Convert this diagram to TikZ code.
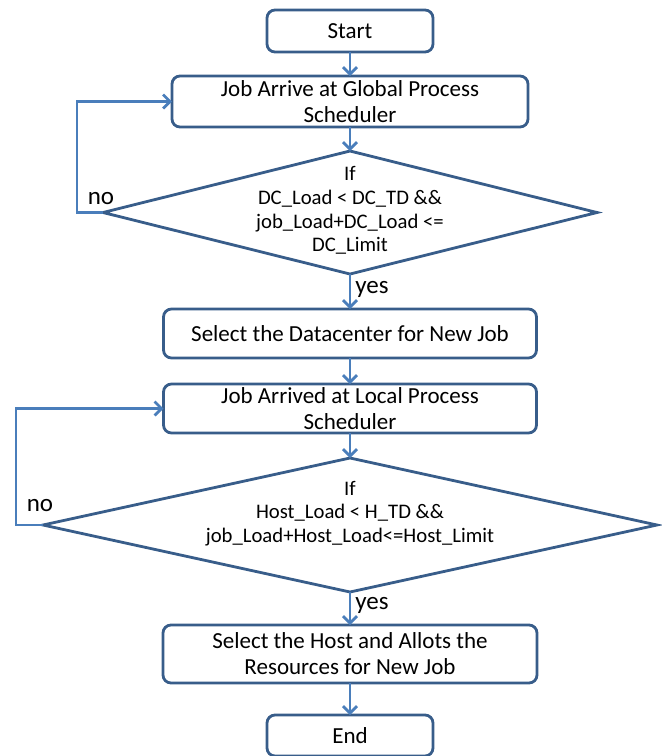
\documentclass[tikz,border=0pt]{standalone}
\usepackage{fontspec}
\setmainfont{Carlito}
\usetikzlibrary{shapes.geometric,arrows.meta}
\definecolor{boxblue}{RGB}{56,93,138}
\definecolor{arrblue}{RGB}{74,126,187}
\tikzset{
  box/.style={draw=boxblue, line width=2.8pt, rounded corners=8pt, fill=white,
    inner sep=0pt, outer sep=0pt, align=center, font=\fontsize{23}{26}\selectfont},
  dia/.style={draw=boxblue, line width=2.8pt, shape=diamond, inner sep=0pt, outer sep=0pt},
  diatext/.style={align=center, inner sep=0pt, font=\fontsize{20.7}{23.7}\selectfont},
  lbl/.style={inner sep=0pt, font=\fontsize{25}{26}\selectfont},
  arr/.style={draw=arrblue, line width=2.8pt, -{Straight Barb[length=7pt,width=14pt,line width=2.8pt]}},
}
\begin{document}
\begin{tikzpicture}[x=1pt,y=-1pt]
\useasboundingbox (0,0) rectangle (662,756);
\node[box, minimum width=166, minimum height=42] (start) at (350,31) {Start};
\node[box, minimum width=356, minimum height=51] (glob) at (350,101.5) {Job Arrive at Global Process\\Scheduler};
\node[dia, minimum width=494, minimum height=123] (d1) at (350,212.5) {};
\node[diatext] (d1t) at (350,210.5) {If\\DC\_Load < DC\_TD \&\&\\job\_Load+DC\_Load <=\\DC\_Limit};
\node[box, minimum width=373, minimum height=49] (dc) at (350,333.5) {Select the Datacenter for New Job};
\node[box, minimum width=373, minimum height=49] (loc) at (350,408.5) {Job Arrived at Local Process\\Scheduler};
\node[dia, minimum width=614, minimum height=134] (d2) at (350,525) {};
\node[diatext] (d2t) at (350,513.5) {If\\Host\_Load < H\_TD \&\&\\job\_Load+Host\_Load<=Host\_Limit};
\node[box, minimum width=374, minimum height=58] (host) at (350,654) {Select the Host and Allots the\\Resources for New Job};
\node[box, minimum width=166, minimum height=41] (end) at (350,735.5) {End};

\coordinate (l1) at (77,212.5);
\coordinate (l1t) at (77,101.5);
\coordinate (l2) at (16,525);
\coordinate (l2t) at (16,408.5);

\draw[arr] (start) -- (glob);
\draw[arr] (glob) -- (d1.north);
\draw[arr] (d1.south) -- (dc);
\draw[arr] (dc) -- (loc);
\draw[arr] (loc) -- (d2.north);
\draw[arr] (d2.south) -- (host);
\draw[arr] (host) -- (end);
\draw[arr] (d1.west) -- (l1) -- (l1t) -- (glob.west);
\draw[arr] (d2.west) -- (l2) -- (l2t) -- (loc.west);

\node[lbl] (no1) at (101,199) {no};
\node[lbl] (no2) at (40,506) {no};
\node[lbl] (yes1) at (372,289) {yes};
\node[lbl] (yes2) at (372,605) {yes};
\end{tikzpicture}
\end{document}
